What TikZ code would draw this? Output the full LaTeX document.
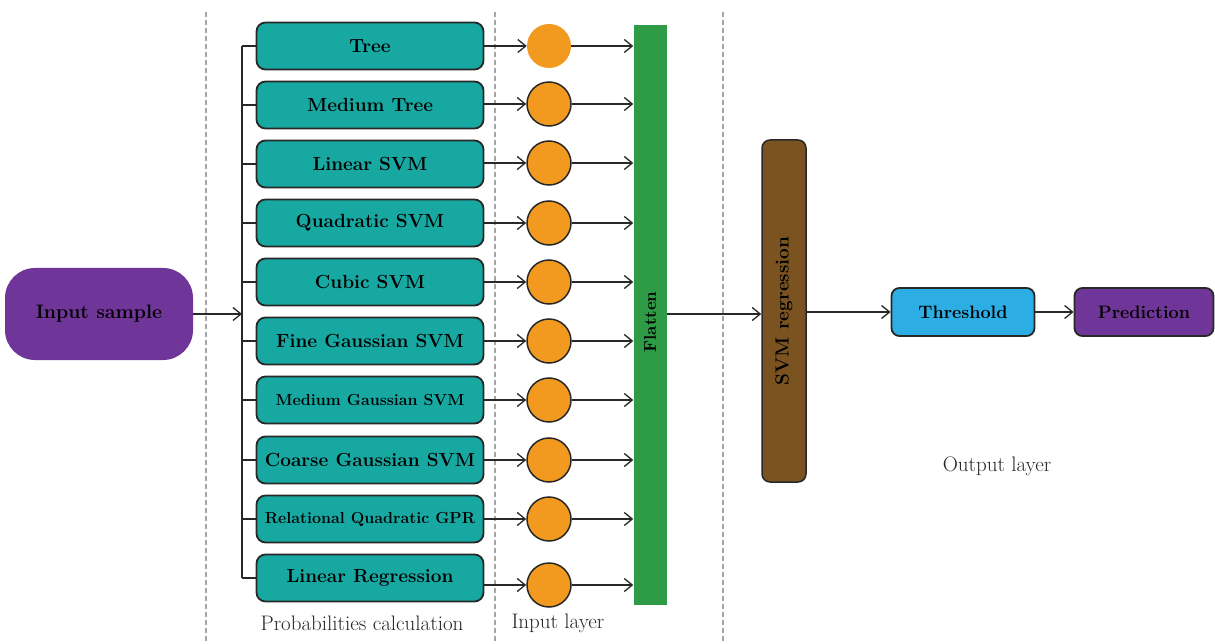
\documentclass[tikz,border=0pt]{standalone}
\usetikzlibrary{arrows.meta,positioning,calc}
\definecolor{teal1}{RGB}{24,168,162}
\definecolor{orng}{RGB}{242,154,32}
\definecolor{flatgreen}{RGB}{46,155,71}
\definecolor{svmbrown}{RGB}{122,83,33}
\definecolor{thblue}{RGB}{44,174,228}
\definecolor{purp}{RGB}{111,53,152}
\definecolor{edge}{RGB}{40,40,40}
\tikzset{
  arr/.style={draw=edge, line width=1.3pt, -{Straight Barb[length=8pt,width=13pt,line width=1.3pt]}},
  conn/.style={draw=edge, line width=1.6pt},
  sep/.style={draw=gray!70, line width=1.4pt, dash pattern=on 5pt off 3pt},
  model/.style={draw=edge, line width=1.8pt, fill=teal1, rounded corners=9pt,
    minimum width=227pt, minimum height=47pt, inner sep=0pt,
    font=\fontsize{19}{22}\selectfont\bfseries},
  smallmodel/.style={model, font=\fontsize{16}{19}\selectfont\bfseries},
  prob/.style={circle, draw=edge, line width=1.5pt, fill=orng, minimum size=44pt, inner sep=0pt},
  lbl/.style={font=\fontsize{21}{24}\selectfont, text=black!85},
}
\begin{document}
\begin{tikzpicture}[x=1pt,y=-1pt]
\useasboundingbox (0,0) rectangle (1215,644);

% section separators
\draw[sep] (206,12) -- (206,644);
\draw[sep] (495,12) -- (495,644);
\draw[sep] (723,12) -- (723,644);

% input
\node[fill=purp, rounded corners=30pt, minimum width=188pt, minimum height=92pt,
  inner sep=0pt, font=\fontsize{19.5}{22}\selectfont\bfseries] (in) at (99,314) {Input sample};

% base models
\node[model] (m1) at (370,46) {Tree};
\node[model] (m2) at (370,105) {Medium Tree};
\node[model] (m3) at (370,164) {Linear SVM};
\node[model] (m4) at (370,223) {Quadratic SVM};
\node[model] (m5) at (370,282) {Cubic SVM};
\node[model] (m6) at (370,341) {Fine Gaussian SVM};
\node[smallmodel] (m7) at (370,400) {Medium Gaussian SVM};
\node[model] (m8) at (370,460) {Coarse Gaussian SVM};
\node[smallmodel] (m9) at (370,519) {Relational Quadratic GPR};
\node[model] (m10) at (370,578) {Linear Regression};

% distribution trunk
\coordinate (tk) at (242,314);
\draw[conn] (m1.west -| tk) -- (m10.west -| tk);
\foreach \i in {1,...,10} { \draw[conn] (m\i.west -| tk) -- (m\i.west); }
\draw[arr] (in.east) -- (tk);

% input layer neurons
\node[circle, fill=orng, minimum size=44pt, inner sep=0pt] (c1) at (549,46) {};
\node[prob] (c2) at (549,104) {};
\node[prob] (c3) at (549,163) {};
\node[prob] (c4) at (549,223) {};
\node[prob] (c5) at (549,282) {};
\node[prob] (c6) at (549,341) {};
\node[prob] (c7) at (549,400) {};
\node[prob] (c8) at (549,460) {};
\node[prob] (c9) at (549,519) {};
\node[prob] (c10) at (549,585) {};

% flatten layer
\node[fill=flatgreen, minimum width=33pt, minimum height=580pt, inner sep=0pt] (fl) at (650,315) {};
\node[rotate=90, font=\fontsize{17}{20}\selectfont\bfseries] (flt) at (650,322) {Flatten};

\foreach \i in {1,...,10} {
  \draw[arr] (m\i.east |- c\i) -- (c\i);
  \draw[arr] (c\i) -- (c\i -| fl.west);
}

% output layer
\node[draw=edge, line width=1.5pt, fill=svmbrown, rounded corners=8pt,
  minimum width=44pt, minimum height=342pt, inner sep=0pt] (svm) at (784,311) {};
\node[rotate=90, font=\fontsize{19}{22}\selectfont\bfseries] (svmt) at (784,311) {SVM regression};
\node[draw=edge, line width=1.8pt, fill=thblue, rounded corners=8pt,
  minimum width=143pt, minimum height=48pt, inner sep=0pt,
  font=\fontsize{18}{21}\selectfont\bfseries] (th) at (963,312) {Threshold};
\node[draw=edge, line width=1.8pt, fill=purp, rounded corners=8pt,
  minimum width=139pt, minimum height=48pt, inner sep=0pt,
  font=\fontsize{18}{21}\selectfont\bfseries] (pr) at (1144,312) {Prediction};

\draw[arr] (fl.east |- in) -- (svm.west |- in);
\draw[arr] (svm.east |- th) -- (th.west);
\draw[arr] (th.east) -- (pr.west);

% section captions
\node[lbl] (cap1) at (362,623) {Probabilities calculation};
\node[lbl] (cap2) at (558,623) {Input layer};
\node[lbl] (cap3) at (997,466) {Output layer};
\end{tikzpicture}
\end{document}
